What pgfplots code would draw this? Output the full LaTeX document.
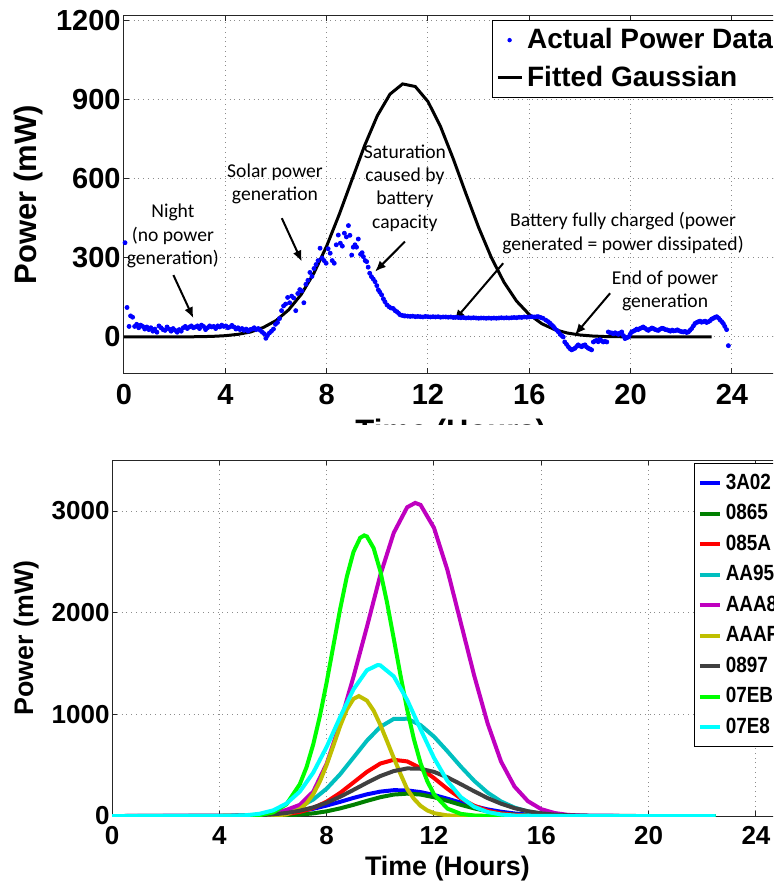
\documentclass[border=0pt]{standalone}
\usepackage{fontspec}
\setmainfont{Liberation Sans}
\newfontfamily\notefont{Carlito}
\newfontfamily\legfont[FakeStretch=0.86]{Liberation Sans}
\usepackage{pgfplots}
\pgfplotsset{compat=1.18}
\usetikzlibrary{arrows.meta}

% MATLAB default line colours
\definecolor{c3A02}{rgb}{0,0,1}
\definecolor{c0865}{rgb}{0,0.5,0}
\definecolor{c085A}{rgb}{1,0,0}
\definecolor{cAA95}{rgb}{0,0.75,0.75}
\definecolor{cAAA8}{rgb}{0.75,0,0.75}
\definecolor{cAAAF}{rgb}{0.75,0.75,0}
\definecolor{c0897}{rgb}{0.25,0.25,0.25}
\definecolor{c07EB}{rgb}{0,1,0}
\definecolor{c07E8}{rgb}{0,1,1}

\pgfplotsset{
  matlab/.style={
    scale only axis,
    axis line style={black!85, line width=0.5pt},
    grid=major,
    major grid style={black!45, dotted, line width=0.5pt},
    tick style={black!85, line width=0.5pt},
    major tick length=2.5pt,
    tick align=inside,
    /pgf/number format/assume math mode=true,
    /pgf/number format/1000 sep={},
    xtick={0,4,...,24},
  },
}
\tikzset{
  note/.style={font=\notefont\fontsize{9.8}{11.65}\selectfont, align=center, inner sep=0pt},
  arr/.style={-{Latex[length=5.5pt,width=4.5pt]}, line width=1pt, black},
}

% measured power trace (hours, mW)
\pgfplotstableread{
t v
0.04 358
0.12 112
0.20 40
0.26 80
0.34 75
0.42 40
0.50 48
0.58 35
0.66 45
0.74 40
0.82 30
0.90 38
0.98 28
1.06 35
1.14 22
1.22 30
1.30 18
1.38 42
1.46 35
1.54 28
1.62 25
1.70 38
1.78 30
1.86 22
1.94 32
2.02 25
2.10 18
2.18 28
2.26 22
2.34 35
2.42 40
2.50 32
2.58 38
2.66 42
2.74 35
2.82 38
2.90 42
2.98 32
3.06 45
3.14 40
3.22 28
3.30 35
3.38 42
3.46 38
3.54 40
3.62 32
3.70 42
3.78 38
3.86 45
3.94 40
4.02 42
4.10 35
4.18 38
4.26 44
4.34 38
4.42 30
4.50 35
4.58 28
4.66 32
4.74 25
4.82 30
4.90 22
4.98 28
5.06 30
5.14 35
5.22 28
5.30 32
5.38 25
5.46 18
5.54 12
5.60 -5
5.66 5
5.74 15
5.82 22
5.90 30
5.98 48
6.06 55
6.14 70
6.22 100
6.30 118
6.38 125
6.46 150
6.54 130
6.62 155
6.70 148
6.78 100
6.86 165
6.94 180
7.02 175
7.10 130
7.18 200
7.26 215
7.34 245
7.42 230
7.50 260
7.58 275
7.66 290
7.74 337
7.82 300
7.90 290
7.98 280
8.06 335
8.14 318
8.22 290
8.30 280
8.38 350
8.46 387
8.54 356
8.62 345
8.70 394
8.78 380
8.86 423
8.92 386
8.99 311
9.05 341
9.12 350
9.18 341
9.25 372
9.34 314
9.40 320
9.45 305
9.52 290
9.58 286
9.64 265
9.70 242
9.77 229
9.84 220
9.91 210
9.98 195
10.04 179
10.10 170
10.17 160
10.24 145
10.30 134
10.38 122
10.46 115
10.54 110
10.63 108
10.70 100
10.77 96
10.84 90
10.90 84
10.98 82
11.06 80
11.1 80
11.2 79
11.3 78
11.4 79
11.5 77
11.6 78
11.7 77
11.8 76
11.9 78
12.0 77
12.1 76
12.2 77
12.3 76
12.4 77
12.5 75
12.6 76
12.7 76
12.8 75
12.9 76
13.0 74
13.1 75
13.2 74
13.3 73
13.4 74
13.5 72
13.6 73
13.7 72
13.8 73
13.9 72
14.0 71
14.1 72
14.2 72
14.3 71
14.4 72
14.5 71
14.6 72
14.7 71
14.8 72
14.9 73
15.0 72
15.1 73
15.2 72
15.3 73
15.4 74
15.5 73
15.6 75
15.7 74
15.8 76
15.9 75
16.0 76
16.1 77
16.2 76
16.3 77
16.36 77
16.45 74
16.54 71
16.65 64
16.75 58
16.82 52
16.88 46
16.95 40
17.00 33
17.08 26
17.15 19
17.22 10
17.28 5
17.34 0
17.40 -19
17.47 -28
17.54 -37
17.60 -44
17.67 -49
17.74 -46
17.80 -43
17.87 -36
17.93 -30
18.00 -34
18.07 -37
18.13 -32
18.20 -30
18.26 -38
18.33 -43
18.40 -46
18.46 -49
18.53 -19
18.60 -15
18.66 -13
18.72 -18
18.79 -10
18.85 -14
18.92 -19
18.99 -17
19.06 -19
19.12 19
19.19 16
19.26 15
19.32 12
19.39 16
19.45 13
19.52 10
19.58 15
19.65 19
19.72 5
19.78 -6
19.85 -3
19.92 0
19.98 10
20.04 19
20.11 22
20.17 25
20.24 30
20.30 28
20.37 32
20.44 35
20.50 38
20.57 33
20.64 28
20.70 25
20.77 30
20.84 34
20.90 32
20.97 28
21.04 26
21.10 25
21.17 30
21.24 33
21.30 32
21.37 28
21.44 27
21.50 25
21.57 22
21.64 26
21.70 23
21.77 24
21.84 27
21.88 25
21.95 22
22.02 20
22.08 19
22.15 21
22.21 17
22.28 19
22.34 25
22.41 32
22.48 42
22.54 51
22.61 55
22.67 58
22.74 60
22.80 56
22.87 58
22.94 60
23.00 55
23.07 58
23.14 62
23.20 68
23.27 71
23.34 75
23.40 77
23.47 72
23.53 65
23.60 58
23.66 51
23.72 40
23.79 28
23.86 -33
}\powerdata

% fitted Gaussian for the trace above
\pgfplotstableread{
t v
0 0
1 0
2 0.2
3 1
3.5 2.3
4 4.9
4.5 10
5 19
5.5 36
6 62
6.5 103
7 162
7.5 243
8 345
8.5 466
9 597
9.5 727
10 840
10.5 922
11 961
11.5 951
12 894
12.5 798
13 676
13.5 544
14 416
14.5 302
15 208
15.5 136
16 85
16.5 50
17 28
17.5 15
18 7.5
18.5 3.6
19 1.6
20 0.3
21 0
23.2 0
}\fitdata

\begin{document}
\begin{tikzpicture}
\useasboundingbox (0pt,0pt) rectangle (386.5pt,-441.5pt);
\clip (0pt,0pt) rectangle (386.5pt,-441.5pt);

% ---------- upper panel: one node, measured vs fitted ----------
\begin{scope}
\clip (0pt,0pt) rectangle (386.5pt,-212pt);
\begin{axis}[matlab,
  at={(62pt,-186.65pt)}, anchor=south west,
  width=326.76pt, height=178.8pt,
  xmin=0, xmax=25.8, ymin=-138, ymax=1220,
  ytick={0,300,600,900,1200},
  ticklabel style={font=\fontsize{14.5}{16}\selectfont\bfseries},
  xticklabel style={yshift=-2pt},
  yticklabel style={xshift=1.8pt},
  xlabel={Time (Hours)}, ylabel={Power (mW)},
  every axis x label/.style={at={(axis description cs:0.5,-0.192)}, anchor=base,
    font=\fontsize{15.5}{18}\selectfont\bfseries},
  every axis y label/.style={at={(axis description cs:-0.1454,0.5)}, anchor=center, rotate=90,
    font=\fontsize{15.5}{18}\selectfont\bfseries},
  legend style={at={(0.5625,0.988)}, anchor=north west, draw=black, line width=0.5pt,
    fill=white, font=\fontsize{14}{16}\selectfont\bfseries,
    inner xsep=2pt, inner ysep=3pt, row sep=5pt,
    nodes={inner xsep=2pt, inner ysep=1pt}},
  legend cell align=left,
  legend image code/.code={\draw[#1, line width=1.5pt] (0pt,0pt) -- (12pt,0pt);},
]
\addplot[only marks, mark=*, mark size=1pt, color=blue, forget plot]
  table[x=t, y=v] {\powerdata};
\addlegendimage{legend image code/.code={\path[draw=none, fill=none] (0pt,0pt) -- (12pt,0pt);
  \fill[blue, draw=none] (6pt,0pt) circle (1.1pt);}}
\addlegendentry{Actual Power Data}
\addplot[black, line width=1.5pt]
  table[x=t, y=v] {\fitdata};
\addlegendentry{Fitted Gaussian}

\node[note] at (axis cs:1.93,383) {Night\\(no power\\generation)};
\draw[arr] (axis cs:1.95,235) -- (axis cs:2.74,71);
\node[note] at (axis cs:5.96,581) {Solar power\\generation};
\draw[arr] (axis cs:6.23,451) -- (axis cs:7.02,286);
\node[note] at (axis cs:11.09,566) {Saturation\\caused by\\battery\\capacity};
\draw[arr] (axis cs:11.09,362) -- (axis cs:9.91,248);
\node[note] at (axis cs:19.7,395) {Battery fully charged (power\\generated = power dissipated)};
\draw[arr] (axis cs:14.97,280) -- (axis cs:13.03,62);
\node[note] at (axis cs:21.36,175) {End of power\\generation};
\draw[arr] (axis cs:19.19,166) -- (axis cs:17.8,8);
\end{axis}
\end{scope}

% ---------- lower panel: fitted curves of all nodes ----------
\begin{axis}[matlab,
  at={(56pt,-408pt)}, anchor=south west,
  width=335.4pt, height=177.9pt,
  xmin=0, xmax=25, ymin=0, ymax=3500,
  ytick={0,1000,2000,3000},
  ticklabel style={font=\fontsize{13}{15}\selectfont\bfseries},
  xticklabel style={yshift=-1.7pt},
  yticklabel style={xshift=2.3pt},
  xlabel={Time (Hours)}, ylabel={Power (mW)},
  every axis x label/.style={at={(axis description cs:0.5,-0.166)}, anchor=base,
    font=\fontsize{13.4}{16}\selectfont\bfseries},
  every axis y label/.style={at={(axis description cs:-0.128,0.5)}, anchor=center, rotate=90,
    font=\fontsize{13.4}{16}\selectfont\bfseries},
  every axis plot/.append style={line width=2pt},
  legend style={at={(0.868,0.991)}, anchor=north west, draw=black, line width=0.5pt,
    fill=white, font=\legfont\fontsize{11}{13}\selectfont\bfseries,
    inner xsep=1.5pt, inner ysep=4pt, row sep=4.1pt,
    nodes={inner xsep=2pt, inner ysep=1pt}},
  legend cell align=left,
  legend image code/.code={\draw[#1, line width=2pt] (0pt,0pt) -- (10pt,0pt);},
]
\addplot[c3A02] coordinates {(0,0) (3,0.15) (4,0.9) (5,4.4) (5.5,8.7) (6,16) (6.5,28) (7,46) (7.5,71) (8,103) (8.5,139) (9,178) (9.5,213) (10,240) (10.5,254) (11,252) (11.5,235) (12,207) (12.5,170) (13,132) (13.5,96) (14,65) (14.5,42) (15,25) (15.5,14) (16,7.6) (16.5,3.8) (17,1.8) (18,0.3) (19,0) (22.5,0)};
\addlegendentry{3A02}
\addplot[c0865] coordinates {(0,0) (4,0.05) (5,0.4) (5.5,1.2) (6,2.9) (6.5,6.6) (7,14) (7.5,26) (8,46) (8.5,75) (9,110) (9.5,149) (10,185) (10.5,211) (11,220) (11.5,211) (12,185) (12.5,149) (13,110) (13.5,75) (14,46) (14.5,26) (15,14) (15.5,6.6) (16,2.9) (16.5,1.2) (17,0.4) (18,0) (22.5,0)};
\addlegendentry{0865}
\addplot[c085A] coordinates {(0,0) (5,1) (5.5,2.8) (6,7.6) (6.5,18) (7,40) (7.5,79) (8,141) (8.5,227) (9,330) (9.5,434) (10,516) (10.5,553) (11,537) (11.5,471) (12,373) (12.5,267) (13,173) (13.5,101) (14,53) (14.5,25) (15,11) (15.5,4) (16,1.5) (17,0) (22.5,0)};
\addlegendentry{085A}
\addplot[cAA95] coordinates {(0,0) (4,0.4) (5,3.6) (5.5,9) (6,21) (6.5,46) (7,90) (7.5,162) (8,269) (8.5,410) (9,575) (9.5,741) (10,877) (10.5,955) (11,957) (11.5,894) (12,781) (12.5,637) (13,486) (13.5,346) (14,230) (14.5,143) (15,83) (15.5,45) (16,23) (16.5,11) (17,5) (18,1) (19,0) (22.5,0)};
\addlegendentry{AA95}
\addplot[cAAA8] coordinates {(0,0) (4,0.7) (5,5) (5.5,12) (6,28) (6.5,60) (7,110) (7.5,240) (8,515) (8.5,910) (9,1370) (9.5,1860) (10,2370) (10.5,2785) (11,3037) (11.3,3080) (11.5,3060) (12,2835) (12.5,2420) (13,1900) (13.5,1380) (14,910) (14.5,535) (15,290) (15.5,146) (16,67) (16.5,29) (17,11) (17.5,4) (18,1) (19,0) (22.5,0)};
\addlegendentry{AAA8}
\addplot[cAAAF] coordinates {(0,0) (5,0) (5.5,0.4) (6,2.8) (6.5,16) (7,68) (7.25,125) (7.5,214) (7.75,341) (8,504) (8.25,692) (8.5,883) (8.75,1047) (9,1152) (9.2,1180) (9.5,1135) (9.75,1037) (10,897) (10.25,736) (10.5,572) (10.75,415) (11,265) (11.25,170) (11.5,100) (11.75,55) (12,28) (12.5,6) (13,1) (14,0) (22.5,0)};
\addlegendentry{AAAF}
\addplot[c0897] coordinates {(0,0) (3,0.1) (4,0.7) (5,3.8) (5.5,8) (6,16) (6.5,30) (7,52) (7.5,85) (8,131) (8.5,189) (9,257) (9.5,327) (10,393) (10.5,442) (11,468) (11.5,465) (12,434) (12.5,381) (13,313) (13.5,243) (14,176) (14.5,121) (15,77) (15.5,47) (16,26) (16.5,14) (17,7) (17.5,3.3) (18,1.4) (19,0.2) (20,0) (22.5,0)};
\addlegendentry{0897}
\addplot[c07EB] coordinates {(0,0) (4,0) (5,1.8) (5.5,8.8) (6,35) (6.5,115) (7,313) (7.25,480) (7.5,705) (7.75,986) (8,1315) (8.25,1674) (8.5,2032) (8.75,2352) (9,2598) (9.25,2737) (9.4,2760) (9.5,2750) (9.75,2635) (10,2409) (10.25,2100) (10.5,1746) (10.75,1386) (11,1048) (11.25,757) (11.5,520) (11.75,342) (12,214) (12.5,73) (13,21) (13.5,5) (14,1) (15,0) (22.5,0)};
\addlegendentry{07EB}
\addplot[c07E8] coordinates {(0,0) (4,0.8) (4.5,2.7) (5,8) (5.5,22) (6,55) (6.5,122) (7,240) (7.5,427) (8,680) (8.5,972) (9,1246) (9.5,1434) (9.9,1485) (10,1482) (10.5,1374) (11,1143) (11.5,853) (12,572) (12.5,344) (13,186) (13.5,90) (14,39) (14.5,15) (15,5) (16,0.5) (17,0) (22.5,0)};
\addlegendentry{07E8}
\end{axis}
\end{tikzpicture}
\end{document}
